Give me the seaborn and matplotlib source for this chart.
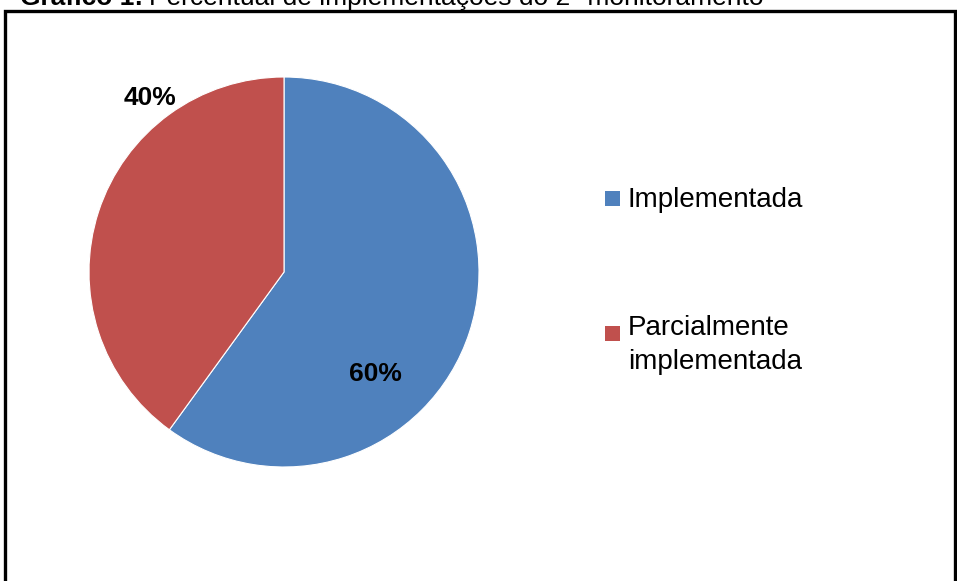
import matplotlib
matplotlib.use("Agg")
import matplotlib.pyplot as plt
import matplotlib.patches as mpatches
import seaborn as sns

# Chart data
categories = ["Implementada", "Parcialmente\nimplementada"]
shares = [60, 40]
pct_labels = ["60%", "40%"]
colors = ["#4F81BD", "#C0504D"]

sns.set_theme(style="white")
plt.rcParams["font.family"] = ["Liberation Sans", "DejaVu Sans"]
plt.rcParams["text.color"] = "black"

W, H = 957, 581
fig = plt.figure(figsize=(W / 100, H / 100), dpi=100)
fig.patch.set_facecolor("white")

# Pie axes: centre (284, 272), radius ~195 px
r = 195
cx, cy = 284, 272
ax = fig.add_axes([(cx - r) / W, 1 - (cy + r) / H, 2 * r / W, 2 * r / H])
wedges, _ = ax.pie(shares, colors=colors, startangle=90, counterclock=False,
                   wedgeprops=dict(edgecolor="white", linewidth=0.8))
ax.set_xlim(-1, 1)
ax.set_ylim(-1, 1)
ax.set_aspect("equal")
ax.axis("off")

# Percentage labels
ax.text(0.468, -0.523, pct_labels[0], fontsize=19, fontweight="bold",
        ha="center", va="center")
ax.text(-0.687, 0.89, pct_labels[1], fontsize=19, fontweight="bold",
        ha="center", va="center")

# Legend (marker sits beside the first line of each label)
marker_y = [198.5, 333]
last_baseline_y = [207, 369]
for label, color, my, by in zip(categories, colors, marker_y, last_baseline_y):
    fig.patches.append(mpatches.Rectangle(
        (605 / W, 1 - (my + 7.5) / H), 15 / W, 15 / H,
        transform=fig.transFigure, facecolor=color, edgecolor="none"))
    fig.text(628 / W, 1 - by / H, label, fontsize=20,
             ha="left", va="baseline", linespacing=1.4)

# Frame border (bottom runs off the image)
frame = mpatches.Rectangle((5 / W, -0.05), 950 / W, 1.05 - 11 / H,
                           transform=fig.transFigure, fill=False,
                           edgecolor="black", linewidth=2.4, clip_on=False)
fig.patches.append(frame)

# Title, cut off at the top edge
t1 = fig.text(20 / W, 1 - 5 / H, "Gráfico 1:", fontsize=19,
              fontweight="bold", ha="left", va="baseline")
fig.canvas.draw()
x_end = t1.get_window_extent().x1 / W
fig.text(x_end + 6 / W, 1 - 5 / H,
         "Percentual de implementações do 2º monitoramento",
         fontsize=19, ha="left", va="baseline")

fig.savefig("out.png", dpi=100)
